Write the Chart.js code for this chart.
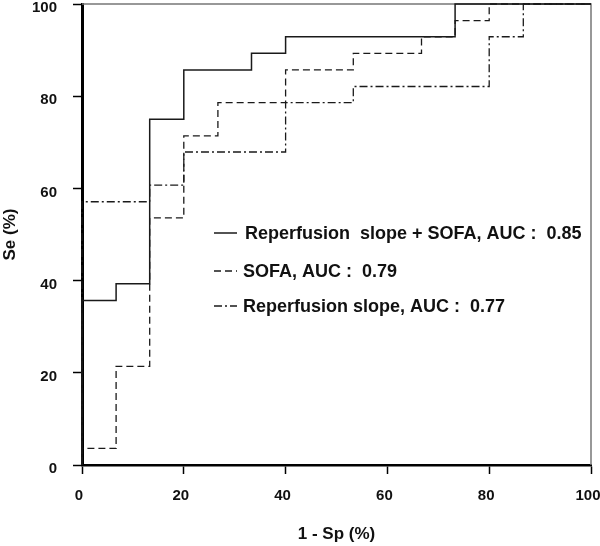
<!DOCTYPE html>
<html>
<head>
<meta charset="utf-8">
<script src="https://cdn.jsdelivr.net/npm/chart.js@4"></script>
<style>
  body { margin: 0; background: #fff; }
  #wrap { width: 600px; height: 546px; }
</style>
</head>
<body>
<div id="wrap"><canvas id="roc" width="600" height="546"></canvas></div>
<script>
// ROC curves, values (percent)
const axisTicks = [0, 20, 40, 60, 80, 100];

const comboLabel = 'Reperfusion  slope + SOFA, AUC :  0.85';
const comboFpr = [0, 0, 6.7, 13.3, 20, 33.3, 40, 73.3, 100];
const comboSe = [0, 35.7, 39.3, 75, 85.7, 89.3, 92.9, 100, 100];

const sofaLabel = 'SOFA, AUC :  0.79';
const sofaFpr = [0, 0, 6.7, 13.3, 20, 26.7, 40, 53.3, 66.7, 73.3, 80, 100];
const sofaSe = [0, 3.6, 21.4, 53.6, 71.4, 78.6, 85.7, 89.3, 92.9, 96.4, 100, 100];

const slopeLabel = 'Reperfusion slope, AUC :  0.77';
const slopeFpr = [0, 0, 13.3, 20, 40, 53.3, 80, 86.7, 100];
const slopeSe = [0, 57.1, 60.7, 67.9, 78.6, 82.1, 92.9, 100, 100];

const FONT = '"Liberation Sans", Arial, sans-serif';
const INK = '#1a1a1a';

const toPoints = (xs, ys) => xs.map((x, i) => ({ x, y: ys[i] }));

// frame: thin grey top/right edges
const frame = {
    id: 'frame',
    beforeDatasetsDraw(chart) {
        const { ctx, chartArea: a } = chart;
        ctx.save();
        ctx.strokeStyle = '#777';
        ctx.lineWidth = 1.5;
        ctx.beginPath();
        ctx.moveTo(a.left, a.top);
        ctx.lineTo(a.right, a.top);
        ctx.lineTo(a.right, a.bottom);
        ctx.stroke();
        ctx.restore();
    }
};

// legend sitting inside the plot, built from the datasets
const legendRows = [233, 271, 306];
const insideLegend = {
    id: 'insideLegend',
    afterDraw(chart) {
        const ctx = chart.ctx;
        ctx.save();
        ctx.font = 'bold 18px ' + FONT;
        ctx.textBaseline = 'middle';
        chart.data.datasets.forEach((ds, i) => {
            const y = legendRows[i];
            ctx.strokeStyle = ds.borderColor;
            ctx.lineWidth = ds.borderWidth;
            ctx.setLineDash(ds.borderDash || []);
            ctx.beginPath();
            ctx.moveTo(214, y);
            ctx.lineTo(237, y);
            ctx.stroke();
            ctx.setLineDash([]);
            ctx.fillStyle = '#111';
            ctx.fillText(ds.label, i === 0 ? 245 : 243, y + 1);
        });
        ctx.restore();
    }
};

const setTicks = scale => { scale.ticks = axisTicks.map(v => ({ value: v })); };

new Chart(document.getElementById('roc'), {
    type: 'line',
    data: {
        datasets: [
            { label: comboLabel, data: toPoints(comboFpr, comboSe), borderColor: INK, borderWidth: 1.5, borderDash: [] },
            { label: sofaLabel, data: toPoints(sofaFpr, sofaSe), borderColor: INK, borderWidth: 1.3, borderDash: [7, 4] },
            { label: slopeLabel, data: toPoints(slopeFpr, slopeSe), borderColor: INK, borderWidth: 1.3, borderDash: [8, 3, 2, 3] }
        ].map(ds => Object.assign(ds, { stepped: 'before', pointRadius: 0, fill: false, clip: 4 }))
    },
    options: {
        responsive: false,
        animation: false,
        layout: { padding: { top: 4, right: 9, bottom: 0, left: 0 } },
        plugins: { legend: { display: false }, tooltip: { enabled: false } },
        scales: {
            x: {
                type: 'linear',
                min: 0, max: 100,
                afterBuildTicks: setTicks,
                afterFit: s => { s.height = 81; s.paddingLeft = 0; s.paddingRight = 0; },
                grid: { drawOnChartArea: false, drawTicks: true, tickLength: 9, color: '#000', tickWidth: 1.5 },
                border: { display: true, color: '#000', width: 2.5 },
                ticks: { color: '#111', padding: 13, labelOffset: -3, maxRotation: 0, font: { family: FONT, size: 15, weight: 'bold' } },
                title: { display: true, text: '1 - Sp (%)', color: '#111', padding: { top: 0, bottom: 1 }, font: { family: FONT, size: 17, weight: 'bold' } }
            },
            y: {
                min: 0, max: 100,
                afterBuildTicks: setTicks,
                afterFit: s => { s.width = 82; s.paddingTop = 0; s.paddingBottom = 0; },
                grid: { drawOnChartArea: false, drawTicks: true, tickLength: 9, color: '#000', tickWidth: 1.5 },
                border: { display: true, color: '#000', width: 3 },
                ticks: { color: '#111', padding: 16, labelOffset: 4, font: { family: FONT, size: 15, weight: 'bold' } },
                title: { display: true, text: 'Se (%)', color: '#111', padding: { top: 0, bottom: 0 }, font: { family: FONT, size: 17, weight: 'bold' } }
            }
        }
    },
    plugins: [frame, insideLegend]
});
</script>
</body>
</html>
